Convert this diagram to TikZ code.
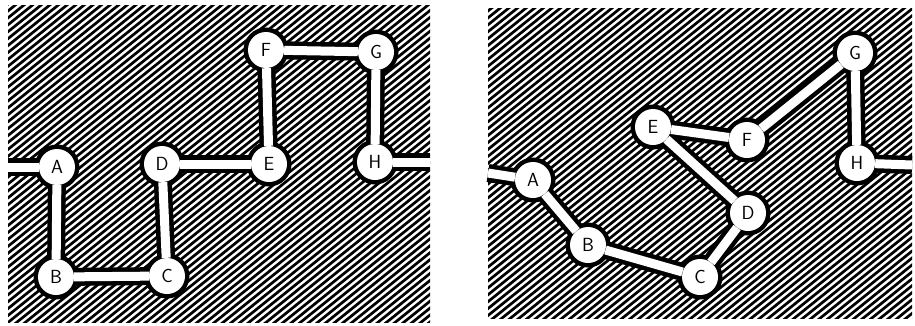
\documentclass[tikz,border=0pt]{standalone}
\usetikzlibrary{backgrounds}
\pgfdeclarelayer{hatchlayer}
\pgfdeclarelayer{outlinelayer}
\pgfdeclarelayer{innerlayer}
\pgfsetlayers{hatchlayer,outlinelayer,innerlayer,main}
\tikzset{
  hatchline/.style={black, line width=2.7pt},
  vtx/.style={circle, fill=white, inner sep=0pt, minimum size=36pt,
    font=\sffamily\fontsize{19}{19}\selectfont},
  outl/.style={black, line width=18pt, line cap=butt},
  innl/.style={white, line width=9pt, line cap=butt},
}
\begin{document}
\begin{tikzpicture}[x=1pt,y=-1pt]
\useasboundingbox (0,0) rectangle (915,325);
\begin{pgfonlayer}{hatchlayer}
  \begin{scope}
    \clip (8,5) rectangle (430,322);
    \foreach \k in {0,...,100} {\draw[hatchline] ({-440+\k*8.6},330) -- ++(410,-330);}
  \end{scope}
  \begin{scope}
    \clip (488,8) rectangle (912,318);
    \foreach \k in {0,...,100} {\draw[hatchline] ({40+\k*8.6},330) -- ++(410,-330);}
  \end{scope}
\end{pgfonlayer}

% ---------- panel 1 ----------
\coordinate (L1) at (8,167);
\coordinate (R1) at (430,162);
\node[vtx] (A1) at (57,167) {A};
\node[vtx] (B1) at (56,277) {B};
\node[vtx] (C1) at (167,276) {C};
\node[vtx] (D1) at (162,164) {D};
\node[vtx] (E1) at (269,164) {E};
\node[vtx] (F1) at (266,50) {F};
\node[vtx] (G1) at (376,52) {G};
\node[vtx] (H1) at (375,162) {H};

% ---------- panel 2 ----------
\coordinate (L2) at (488,173);
\coordinate (R2) at (912,165);
\node[vtx] (A2) at (533,180) {A};
\node[vtx] (B2) at (588,245) {B};
\node[vtx] (C2) at (700,277) {C};
\node[vtx] (D2) at (748,213) {D};
\node[vtx] (E2) at (653,127) {E};
\node[vtx] (F2) at (747,140) {F};
\node[vtx] (G2) at (855,53) {G};
\node[vtx] (H2) at (857,163) {H};

\begin{pgfonlayer}{outlinelayer}
  \foreach \n in {A1,B1,C1,D1,E1,F1,G1,H1,A2,B2,C2,D2,E2,F2,G2,H2}
    {\fill[black] (\n.center) circle (22.5);}
  \foreach \a/\b in {L1/A1,A1/B1,B1/C1,C1/D1,D1/E1,E1/F1,F1/G1,G1/H1,H1/R1,
                     L2/A2,A2/B2,B2/C2,C2/D2,D2/E2,E2/F2,F2/G2,G2/H2,H2/R2}
    {\draw[outl] (\a) -- (\b);}
\end{pgfonlayer}
\begin{pgfonlayer}{innerlayer}
  \foreach \a/\b in {L1/A1,A1/B1,B1/C1,C1/D1,D1/E1,E1/F1,F1/G1,G1/H1,H1/R1,
                     L2/A2,A2/B2,B2/C2,C2/D2,D2/E2,E2/F2,F2/G2,G2/H2,H2/R2}
    {\draw[innl] (\a) -- (\b);}
\end{pgfonlayer}
\end{tikzpicture}
\end{document}
